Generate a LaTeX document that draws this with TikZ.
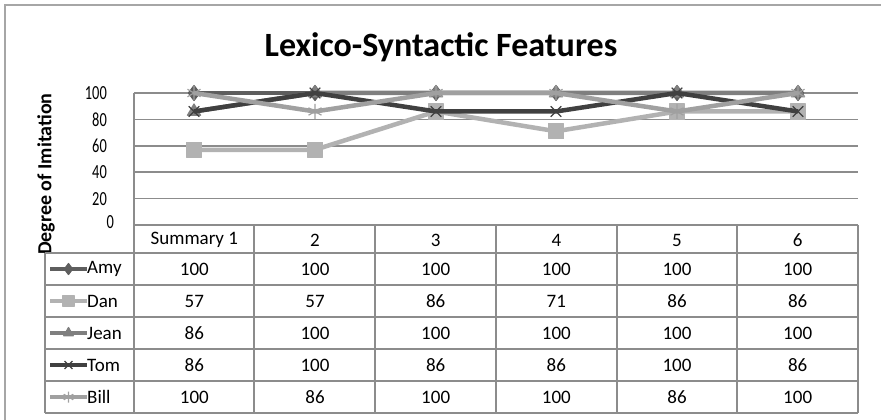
\documentclass[tikz,border=0pt]{standalone}
\usepackage{fontspec}
\setmainfont{Carlito}
\usetikzlibrary{plotmarks}

\begin{document}
\begin{tikzpicture}[x=1pt, y=-1pt,
    gridline/.style={draw=gridgray, line width=1.5pt},
    tableline/.style={draw=gridgray, line width=1.5pt},
    cell/.style={font=\fontsize{19}{21}\selectfont, inner sep=0pt},
    ticklabel/.style={font=\fontsize{20}{22}\selectfont, anchor=east, inner sep=0pt},
    serie/.style={line width=4.5pt, line join=round, mark size=7.5pt},
    amyser/.style={draw=amycol, mark=diamond*,
        mark options={solid, line width=1.2pt, draw=amycol, fill=amycol}},
    danser/.style={draw=dancol, mark=square*,
        mark options={solid, line width=1.2pt, draw=dancol, fill=dancol}},
    jeanser/.style={draw=jeancol, mark=triangle*,
        mark options={solid, line width=1.2pt, draw=jeancol, fill=jeancol}},
    tomser/.style={draw=tomcol, mark=x,
        mark options={solid, line width=1.2pt, draw=tomcol}},
    billser/.style={draw=billcol, mark=asterisk,
        mark options={solid, line width=1.2pt, draw=billcol}},
]

    % Color definitions
    \definecolor{gridgray}{HTML}{8C8C8C}
    \definecolor{framegray}{HTML}{A6A6A6}
    \definecolor{amycol}{HTML}{5E5E5E}
    \definecolor{dancol}{HTML}{B2B2B2}
    \definecolor{jeancol}{HTML}{7F7F7F}
    \definecolor{tomcol}{HTML}{404040}
    \definecolor{billcol}{HTML}{A0A0A0}

    \useasboundingbox (0,0) rectangle (881,420);
    \draw[framegray, line width=1.5pt] (5,420) -- (5,5) -- (881,5);

    % Title
    \node[font=\fontsize{34}{38}\selectfont\bfseries] (title) at (441,47)
        {Lexico-Syntactic Features};
    \node[font=\fontsize{20}{22}\selectfont\bfseries, rotate=90] (ytitle) at (46,174)
        {Degree of Imitation};

    % Grid and axis labels
    \foreach \v in {20,40,...,100}
        \draw[gridline] (134,{225-1.32*\v}) -- (858,{225-1.32*\v});
    \foreach \v in {20,40,...,100}
        \node[ticklabel] (tick\v) at (107,{225-1.32*\v}) {\scalebox{0.72}[1]{\v}};
    \node[ticklabel] (tick0) at (114,222) {\scalebox{0.72}[1]{0}};

    % Table lines
    \draw[tableline] (134,93) -- (134,413);
    \draw[tableline] (134,225) -- (858,225);
    \foreach \y in {253,285,...,413}
        \draw[tableline] (45,\y) -- (858,\y);
    \draw[tableline] (45,253) -- (45,413);
    \foreach \x in {254,375,496,617,737,858}
        \draw[tableline] (\x,225) -- (\x,413);

    % Column headings
    \foreach \h [count=\c] in {Summary 1,2,3,4,5,6}
        \node[cell] (head\c) at ({134+120.67*(\c-0.5)},240) {\h};

    % Values
    \foreach \vals [count=\r] in {{100,100,100,100,100,100},{57,57,86,71,86,86},
            {86,100,100,100,100,100},{86,100,86,86,100,86},{100,86,100,100,86,100}}
        \foreach \v [count=\c] in \vals
            \node[cell] (val-\r-\c) at ({134+120.67*(\c-0.5)},{253+32*(\r-0.5)}) {\v};

    % Legend
    \foreach \nm/\st [count=\r] in {Amy/amyser,Dan/danser,Jean/jeanser,Tom/tomser,Bill/billser} {
        \draw[serie, \st, mark=none, line width=3.5pt] (50,{253+32*(\r-0.5)}) -- (87,{253+32*(\r-0.5)});
        \draw[serie, \st, mark size=5.5pt] plot coordinates {(68.5,{253+32*(\r-0.5)})};
        \node[cell, anchor=west] (leg\r) at (87,{253+32*(\r-0.5)}) {\nm};
    }

    % Series
    \begin{scope}[shift={(0,225)}, y=1.32pt]
        \draw[serie, amyser] plot coordinates {(194,100) (315,100) (436,100) (556,100) (677,100) (798,100)};
        \draw[serie, danser] plot coordinates {(194,57) (315,57) (436,86) (556,71) (677,86) (798,86)};
        \draw[serie, jeanser] plot coordinates {(194,86) (315,100) (436,100) (556,100) (677,100) (798,100)};
        \draw[serie, tomser] plot coordinates {(194,86) (315,100) (436,86) (556,86) (677,100) (798,86)};
        \draw[serie, billser] plot coordinates {(194,100) (315,86) (436,100) (556,100) (677,86) (798,100)};
    \end{scope}

\end{tikzpicture}
\end{document}
